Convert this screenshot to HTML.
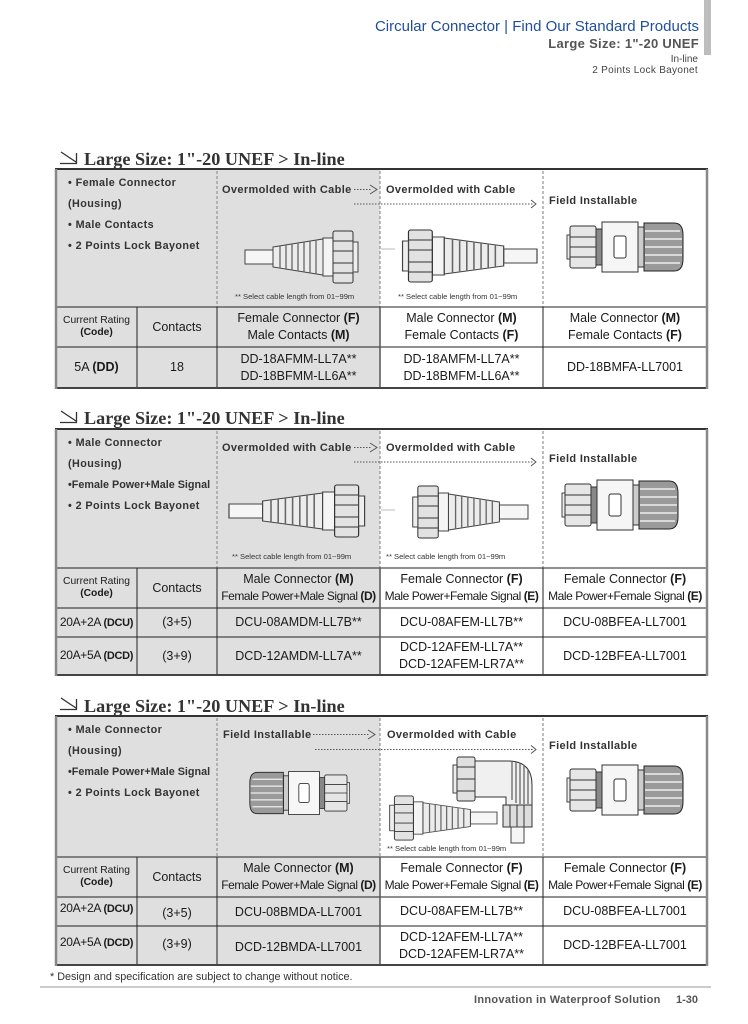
<!DOCTYPE html>
<html><head><meta charset="utf-8">
<style>
html,body{margin:0;padding:0;background:#fff;}
body{width:748px;height:1024px;position:relative;overflow:hidden;font-family:"Liberation Sans",Arial,sans-serif;color:#222;}
.t{position:absolute;white-space:nowrap;line-height:14px;}
.lb{font-size:11px;font-weight:bold;color:#333;letter-spacing:.35px;}
.bu{font-size:10.8px;font-weight:bold;color:#333;letter-spacing:.4px;}
.sn{font-size:7.6px;color:#333;line-height:10px;}
.ti{position:absolute;left:84px;font-family:"Liberation Serif",serif;font-weight:bold;font-size:18.2px;line-height:18px;color:#333;white-space:nowrap;}
.c{position:absolute;display:flex;align-items:center;justify-content:center;text-align:center;font-size:12.5px;line-height:17px;color:#1a1a1a;white-space:nowrap;}
.c>span{display:block;}
.cr{font-size:10.3px;line-height:12px;}
.n{font-size:12px;letter-spacing:-.45px;}
.r1{font-size:12px;letter-spacing:-.3px;}
</style></head><body>

<svg width="748" height="1024" style="position:absolute;left:0;top:0" xmlns="http://www.w3.org/2000/svg">
<style>
.d{stroke:#9a9a9a;stroke-width:1.3;stroke-dasharray:3 2;}
.k{stroke:#222;stroke-width:1;}
.dt{stroke:#555;stroke-width:1;stroke-dasharray:1.5 1.5;fill:none;}
.ch{stroke:#555;stroke-width:1;fill:none;}
</style>
<defs>
<g id="om">
 <rect x="0" y="-7" width="28" height="14" fill="#f6f6f6" stroke="#444"/>
 <path d="M28,-10 L78,-18 L78,18 L28,10 Z" fill="#ececec" stroke="#444"/>
 <g stroke="#666" stroke-width="1.3">
  <line x1="35" y1="-11" x2="35" y2="11"/>
  <line x1="41" y1="-12" x2="41" y2="12"/>
  <line x1="47" y1="-13" x2="47" y2="13"/>
  <line x1="53" y1="-14" x2="53" y2="14"/>
  <line x1="59" y1="-15" x2="59" y2="15"/>
  <line x1="65" y1="-16" x2="65" y2="16"/>
  <line x1="71" y1="-17" x2="71" y2="17"/>
 </g>
 <rect x="78" y="-19" width="10" height="38" fill="#f4f4f4" stroke="#444"/>
 <rect x="88" y="-26" width="20" height="52" rx="2" fill="#e2e2e2" stroke="#333"/>
 <g stroke="#333"><line x1="88" y1="-16" x2="108" y2="-16"/><line x1="88" y1="-6" x2="108" y2="-6"/><line x1="88" y1="6" x2="108" y2="6"/><line x1="88" y1="16" x2="108" y2="16"/></g>
 <rect x="108" y="-15" width="5" height="30" fill="#eee" stroke="#444"/>
</g>
<g id="fi">
 <rect x="-3" y="-12" width="5" height="24" fill="#eee" stroke="#444"/>
 <rect x="0" y="-21" width="26" height="42" rx="2" fill="#e6e6e6" stroke="#333"/>
 <g stroke="#333"><line x1="0" y1="-10" x2="26" y2="-10"/><line x1="0" y1="0" x2="26" y2="0"/><line x1="0" y1="10" x2="26" y2="10"/></g>
 <rect x="26" y="-18" width="6" height="36" fill="#888" stroke="#333"/>
 <rect x="32" y="-25" width="36" height="50" fill="#f6f6f6" stroke="#333"/>
 <rect x="44" y="-11" width="12" height="22" rx="2" fill="#fff" stroke="#333"/>
 <rect x="68" y="-20" width="6" height="40" fill="#ccc" stroke="#333"/>
 <path d="M74,-24 H104 Q113,-24 113,-12 V12 Q113,24 104,24 H74 Z" fill="#9a9a9a" stroke="#222"/>
 <g stroke="#eee" stroke-width="1.5"><line x1="75" y1="-16" x2="110" y2="-16"/><line x1="75" y1="-8" x2="112" y2="-8"/><line x1="75" y1="0" x2="112" y2="0"/><line x1="75" y1="8" x2="112" y2="8"/><line x1="75" y1="16" x2="110" y2="16"/></g>
</g>
</defs>

<rect x="704" y="0" width="7" height="55" fill="#bdbdbd"/>

<g stroke="#333" stroke-width="1.3" fill="none">
 <path d="M61,152 L76,162 M60,163.5 H77 M76.5,153 V163.5"/>
 <path d="M61,411 L76,421 M60,422.5 H77 M76.5,412 V422.5"/>
 <path d="M61,698 L76,708 M60,709.5 H77 M76.5,699 V709.5"/>
</g>

<!-- SECTION 1 -->
<rect x="56" y="169" width="324" height="219" fill="#dfdfdf"/>
<line x1="217" y1="171" x2="217" y2="307" class="d"/>
<line x1="380" y1="171" x2="380" y2="307" class="d"/>
<line x1="543" y1="171" x2="543" y2="307" class="d"/>
<line x1="56" y1="307" x2="707" y2="307" class="k"/>
<line x1="56" y1="347" x2="707" y2="347" class="k"/>
<line x1="137" y1="307" x2="137" y2="388" class="k"/>
<line x1="217" y1="307" x2="217" y2="388" class="k"/>
<line x1="380" y1="307" x2="380" y2="388" stroke="#555" stroke-width="1.5"/>
<line x1="543" y1="307" x2="543" y2="388" class="k"/>
<line x1="55" y1="169" x2="708" y2="169" stroke="#333" stroke-width="2"/>
<line x1="55" y1="388" x2="708" y2="388" stroke="#444" stroke-width="2"/>
<line x1="56" y1="169" x2="56" y2="389" stroke="#888" stroke-width="2.5"/>
<line x1="707" y1="169" x2="707" y2="389" stroke="#888" stroke-width="2.5"/>
<line x1="354" y1="189.5" x2="371" y2="189.5" class="dt"/>
<path d="M370,185 L377,189.5 L370,194" class="ch"/>
<line x1="354" y1="204" x2="533" y2="204" class="dt"/>
<path d="M531,200 L536,204 L531,208" class="ch"/>
<line x1="381" y1="249" x2="395" y2="249" stroke="#bbb"/>
<use href="#om" transform="translate(245,257)"/>
<use href="#om" transform="translate(537,256) scale(-1.19,1)"/>
<use href="#fi" transform="translate(570,247)"/>

<!-- SECTION 2 -->
<rect x="56" y="429" width="324" height="246" fill="#dfdfdf"/>
<line x1="217" y1="431" x2="217" y2="568" class="d"/>
<line x1="380" y1="431" x2="380" y2="568" class="d"/>
<line x1="543" y1="431" x2="543" y2="568" class="d"/>
<line x1="56" y1="568" x2="707" y2="568" class="k"/>
<line x1="56" y1="608" x2="707" y2="608" class="k"/>
<line x1="56" y1="637" x2="707" y2="637" class="k"/>
<line x1="137" y1="568" x2="137" y2="675" class="k"/>
<line x1="217" y1="568" x2="217" y2="675" class="k"/>
<line x1="380" y1="568" x2="380" y2="675" stroke="#555" stroke-width="1.5"/>
<line x1="543" y1="568" x2="543" y2="675" class="k"/>
<line x1="55" y1="429" x2="708" y2="429" stroke="#333" stroke-width="2"/>
<line x1="55" y1="675" x2="708" y2="675" stroke="#444" stroke-width="2"/>
<line x1="56" y1="429" x2="56" y2="676" stroke="#888" stroke-width="2.5"/>
<line x1="707" y1="429" x2="707" y2="676" stroke="#888" stroke-width="2.5"/>
<line x1="354" y1="447.5" x2="371" y2="447.5" class="dt"/>
<path d="M370,443 L377,447.5 L370,452" class="ch"/>
<line x1="354" y1="462" x2="533" y2="462" class="dt"/>
<path d="M531,458 L536,462 L531,466" class="ch"/>
<line x1="381" y1="510" x2="395" y2="510" stroke="#bbb"/>
<use href="#om" transform="translate(229,511) scale(1.2,1)"/>
<use href="#om" transform="translate(528,512) scale(-1.02,1)"/>
<use href="#fi" transform="translate(565,505)"/>

<!-- SECTION 3 -->
<rect x="56" y="716" width="324" height="249" fill="#dfdfdf"/>
<line x1="217" y1="718" x2="217" y2="857" class="d"/>
<line x1="380" y1="718" x2="380" y2="857" class="d"/>
<line x1="543" y1="718" x2="543" y2="857" class="d"/>
<line x1="56" y1="857" x2="707" y2="857" class="k"/>
<line x1="56" y1="897" x2="707" y2="897" class="k"/>
<line x1="56" y1="926" x2="707" y2="926" class="k"/>
<line x1="137" y1="857" x2="137" y2="965" class="k"/>
<line x1="217" y1="857" x2="217" y2="965" class="k"/>
<line x1="380" y1="857" x2="380" y2="965" stroke="#555" stroke-width="1.5"/>
<line x1="543" y1="857" x2="543" y2="965" class="k"/>
<line x1="55" y1="716" x2="708" y2="716" stroke="#333" stroke-width="2"/>
<line x1="55" y1="965" x2="708" y2="965" stroke="#444" stroke-width="2"/>
<line x1="56" y1="716" x2="56" y2="966" stroke="#888" stroke-width="2.5"/>
<line x1="707" y1="716" x2="707" y2="966" stroke="#888" stroke-width="2.5"/>
<line x1="313" y1="734.5" x2="369" y2="734.5" class="dt"/>
<path d="M368,730 L375,734.5 L368,739" class="ch"/>
<line x1="315" y1="749.5" x2="533" y2="749.5" class="dt"/>
<path d="M531,745.5 L536,749.5 L531,753.5" class="ch"/>
<use href="#fi" transform="translate(347,793) scale(-0.86,0.86)"/>
<use href="#om" transform="translate(497,818) scale(-0.95,0.85)"/>
<use href="#fi" transform="translate(570,790)"/>
<rect x="453" y="765" width="5" height="28" fill="#eee" stroke="#444"/>
<rect x="457" y="757" width="18" height="44" rx="2" fill="#e0e0e0" stroke="#333"/>
<g stroke="#333"><line x1="457" y1="767" x2="475" y2="767"/><line x1="457" y1="779" x2="475" y2="779"/><line x1="457" y1="791" x2="475" y2="791"/></g>
<path d="M475,761 H508 Q532,761 532,785 V805 H506 V797 H475 Z" fill="#f0f0f0" stroke="#333"/>
<g stroke="#666" stroke-width="1.3"><line x1="512" y1="762" x2="512" y2="800"/><line x1="516" y1="762" x2="516" y2="803"/><line x1="520" y1="763" x2="520" y2="804"/><line x1="524" y1="765" x2="524" y2="804"/><line x1="528" y1="769" x2="528" y2="804"/></g>
<rect x="503" y="805" width="29" height="22" fill="#ddd" stroke="#333"/>
<g stroke="#333"><line x1="510" y1="805" x2="510" y2="827"/><line x1="517" y1="805" x2="517" y2="827"/><line x1="524" y1="805" x2="524" y2="827"/></g>
<rect x="511" y="827" width="13" height="16" fill="#f6f6f6" stroke="#444"/>

<line x1="40" y1="987" x2="711" y2="987" stroke="#bbb" stroke-width="1.5"/>
</svg>

<div class="t" style="right:49px;top:18px;font-size:15px;line-height:18px;color:#1f4e9c;">Circular Connector | Find Our Standard Products</div>
<div class="t" style="right:49px;top:36px;font-size:13px;line-height:16px;font-weight:bold;color:#555;letter-spacing:.3px;">Large Size: 1"-20 UNEF</div>
<div class="t" style="right:50px;top:54px;font-size:10px;line-height:12px;color:#444;">In-line</div>
<div class="t" style="right:50px;top:65px;font-size:10px;line-height:12px;color:#444;letter-spacing:.3px;">2 Points Lock Bayonet</div>

<div class="ti" style="top:150px;">Large Size: 1"-20 UNEF &gt; In-line</div>
<div class="ti" style="top:409px;">Large Size: 1"-20 UNEF &gt; In-line</div>
<div class="ti" style="top:697px;">Large Size: 1"-20 UNEF &gt; In-line</div>

<!-- S1 image area text -->
<div class="t bu" style="left:68px;top:176px;">• Female Connector</div>
<div class="t bu" style="left:68px;top:197px;">(Housing)</div>
<div class="t bu" style="left:68px;top:218px;">• Male Contacts</div>
<div class="t bu" style="left:68px;top:239px;">• 2 Points Lock Bayonet</div>
<div class="t lb" style="left:222px;top:183px;">Overmolded with Cable</div>
<div class="t lb" style="left:386px;top:183px;">Overmolded with Cable</div>
<div class="t lb" style="left:549px;top:194px;">Field Installable</div>
<div class="t sn" style="left:235px;top:292px;">** Select cable length from 01~99m</div>
<div class="t sn" style="left:398px;top:292px;">** Select cable length from 01~99m</div>

<!-- S1 table -->
<div class="c cr" style="left:56px;top:307px;width:81px;height:40px;"><span>Current Rating<br><b>(Code)</b></span></div>
<div class="c" style="left:137px;top:307px;width:80px;height:40px;"><span>Contacts</span></div>
<div class="c" style="left:217px;top:307px;width:163px;height:40px;"><span>Female Connector <b>(F)</b><br>Male Contacts <b>(M)</b></span></div>
<div class="c" style="left:380px;top:307px;width:163px;height:40px;"><span>Male Connector <b>(M)</b><br>Female Contacts <b>(F)</b></span></div>
<div class="c" style="left:543px;top:307px;width:164px;height:40px;"><span>Male Connector <b>(M)</b><br>Female Contacts <b>(F)</b></span></div>
<div class="c" style="left:56px;top:347px;width:81px;height:41px;"><span>5A <b>(DD)</b></span></div>
<div class="c" style="left:137px;top:347px;width:80px;height:41px;"><span>18</span></div>
<div class="c" style="left:217px;top:347px;width:163px;height:41px;"><span>DD-18AFMM-LL7A**<br>DD-18BFMM-LL6A**</span></div>
<div class="c" style="left:380px;top:347px;width:163px;height:41px;"><span>DD-18AMFM-LL7A**<br>DD-18BMFM-LL6A**</span></div>
<div class="c" style="left:543px;top:347px;width:164px;height:41px;"><span>DD-18BMFA-LL7001</span></div>

<!-- S2 image area text -->
<div class="t bu" style="left:68px;top:436px;">• Male Connector</div>
<div class="t bu" style="left:68px;top:457px;">(Housing)</div>
<div class="t bu" style="left:68px;top:478px;letter-spacing:0;">•Female Power+Male Signal</div>
<div class="t bu" style="left:68px;top:499px;">• 2 Points Lock Bayonet</div>
<div class="t lb" style="left:222px;top:441px;">Overmolded with Cable</div>
<div class="t lb" style="left:386px;top:441px;">Overmolded with Cable</div>
<div class="t lb" style="left:549px;top:452px;">Field Installable</div>
<div class="t sn" style="left:232px;top:552px;">** Select cable length from 01~99m</div>
<div class="t sn" style="left:386px;top:552px;">** Select cable length from 01~99m</div>

<!-- S2 table -->
<div class="c cr" style="left:56px;top:568px;width:81px;height:40px;"><span>Current Rating<br><b>(Code)</b></span></div>
<div class="c" style="left:137px;top:568px;width:80px;height:40px;"><span>Contacts</span></div>
<div class="c" style="left:217px;top:568px;width:163px;height:40px;"><span>Male Connector <b>(M)</b><br><span class="n">Female Power+Male Signal <b>(D)</b></span></span></div>
<div class="c" style="left:380px;top:568px;width:163px;height:40px;"><span>Female Connector <b>(F)</b><br><span class="n">Male Power+Female Signal <b>(E)</b></span></span></div>
<div class="c" style="left:543px;top:568px;width:164px;height:40px;"><span>Female Connector <b>(F)</b><br><span class="n">Male Power+Female Signal <b>(E)</b></span></span></div>
<div class="c r1" style="left:56px;top:608px;width:81px;height:29px;"><span>20A+2A <b style="font-size:11px">(DCU)</b></span></div>
<div class="c" style="left:137px;top:608px;width:80px;height:29px;"><span>(3+5)</span></div>
<div class="c" style="left:217px;top:608px;width:163px;height:29px;"><span>DCU-08AMDM-LL7B**</span></div>
<div class="c" style="left:380px;top:608px;width:163px;height:29px;"><span>DCU-08AFEM-LL7B**</span></div>
<div class="c" style="left:543px;top:608px;width:164px;height:29px;"><span>DCU-08BFEA-LL7001</span></div>
<div class="c r1" style="left:56px;top:637px;width:81px;height:38px;"><span>20A+5A <b style="font-size:11px">(DCD)</b></span></div>
<div class="c" style="left:137px;top:637px;width:80px;height:38px;"><span>(3+9)</span></div>
<div class="c" style="left:217px;top:637px;width:163px;height:38px;"><span>DCD-12AMDM-LL7A**</span></div>
<div class="c" style="left:380px;top:637px;width:163px;height:38px;"><span>DCD-12AFEM-LL7A**<br>DCD-12AFEM-LR7A**</span></div>
<div class="c" style="left:543px;top:637px;width:164px;height:38px;"><span>DCD-12BFEA-LL7001</span></div>

<!-- S3 image area text -->
<div class="t bu" style="left:68px;top:723px;">• Male Connector</div>
<div class="t bu" style="left:68px;top:744px;">(Housing)</div>
<div class="t bu" style="left:68px;top:765px;letter-spacing:0;">•Female Power+Male Signal</div>
<div class="t bu" style="left:68px;top:786px;">• 2 Points Lock Bayonet</div>
<div class="t lb" style="left:223px;top:728px;">Field Installable</div>
<div class="t lb" style="left:387px;top:728px;">Overmolded with Cable</div>
<div class="t lb" style="left:549px;top:739px;">Field Installable</div>
<div class="t sn" style="left:387px;top:844px;">** Select cable length from 01~99m</div>

<!-- S3 table -->
<div class="c cr" style="left:56px;top:857px;width:81px;height:40px;"><span>Current Rating<br><b>(Code)</b></span></div>
<div class="c" style="left:137px;top:857px;width:80px;height:40px;"><span>Contacts</span></div>
<div class="c" style="left:217px;top:857px;width:163px;height:40px;"><span>Male Connector <b>(M)</b><br><span class="n">Female Power+Male Signal <b>(D)</b></span></span></div>
<div class="c" style="left:380px;top:857px;width:163px;height:40px;"><span>Female Connector <b>(F)</b><br><span class="n">Male Power+Female Signal <b>(E)</b></span></span></div>
<div class="c" style="left:543px;top:857px;width:164px;height:40px;"><span>Female Connector <b>(F)</b><br><span class="n">Male Power+Female Signal <b>(E)</b></span></span></div>
<div class="c r1" style="left:56px;top:897px;width:81px;height:24px;"><span>20A+2A <b style="font-size:11px">(DCU)</b></span></div>
<div class="c" style="left:137px;top:899px;width:80px;height:29px;"><span>(3+5)</span></div>
<div class="c" style="left:217px;top:898px;width:163px;height:29px;"><span>DCU-08BMDA-LL7001</span></div>
<div class="c" style="left:380px;top:897px;width:163px;height:29px;"><span>DCU-08AFEM-LL7B**</span></div>
<div class="c" style="left:543px;top:897px;width:164px;height:29px;"><span>DCU-08BFEA-LL7001</span></div>
<div class="c r1" style="left:56px;top:926px;width:81px;height:33px;"><span>20A+5A <b style="font-size:11px">(DCD)</b></span></div>
<div class="c" style="left:137px;top:926px;width:80px;height:36px;"><span>(3+9)</span></div>
<div class="c" style="left:217px;top:928px;width:163px;height:38px;"><span>DCD-12BMDA-LL7001</span></div>
<div class="c" style="left:380px;top:926px;width:163px;height:39px;"><span>DCD-12AFEM-LL7A**<br>DCD-12AFEM-LR7A**</span></div>
<div class="c" style="left:543px;top:926px;width:164px;height:39px;"><span>DCD-12BFEA-LL7001</span></div>

<div class="t" style="left:50px;top:970px;font-size:10.8px;color:#333;">* Design and specification are subject to change without notice.</div>
<div class="t" style="left:474px;top:993px;font-size:11px;font-weight:bold;color:#555;letter-spacing:.3px;">Innovation in Waterproof Solution</div>
<div class="t" style="left:676px;top:993px;font-size:11px;font-weight:bold;color:#555;">1-30</div>

</body></html>
